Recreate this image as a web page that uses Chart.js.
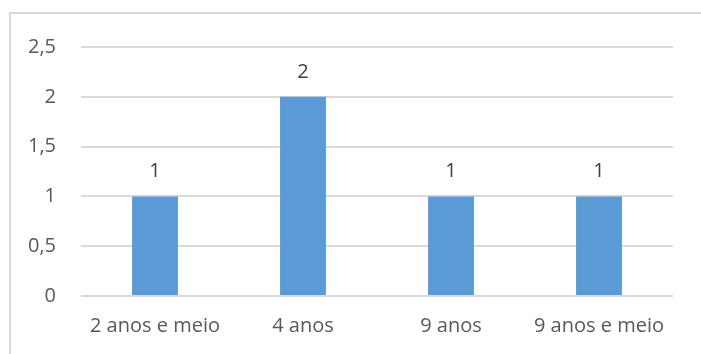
<!DOCTYPE html>
<html>
<head>
<meta charset="utf-8">
<script src="https://cdn.jsdelivr.net/npm/chart.js@4"></script>
<style>
html,body{margin:0;padding:0;background:#fff;}
#wrap{position:relative;width:701px;height:354px;}
</style>
</head>
<body>
<div id="wrap"><canvas id="c" width="701" height="354"></canvas></div>
<script>
const categories = ["2 anos e meio", "4 anos", "9 anos", "9 anos e meio"];
const values = [1, 2, 1, 1];
const yTicks = [0, 0.5, 1, 1.5, 2, 2.5];

const FONT = "'Open Sans', sans-serif";
const TXT = '#595959';
const FS = 20;

const framePlugin = {
  id: 'frame',
  beforeDraw(chart) {
    const ctx = chart.ctx;
    ctx.save();
    ctx.fillStyle = '#fff';
    ctx.fillRect(0, 0, chart.width, chart.height);
    ctx.strokeStyle = '#d9d9d9';
    ctx.lineWidth = 2;
    ctx.beginPath();
    ctx.moveTo(10, chart.height);
    ctx.lineTo(10, 13);
    ctx.lineTo(chart.width, 13);
    ctx.stroke();
    ctx.restore();
  }
};

const labelPlugin = {
  id: 'vals',
  afterDatasetsDraw(chart) {
    const ctx = chart.ctx;
    const meta = chart.getDatasetMeta(0);
    ctx.save();
    ctx.font = FS + 'px ' + FONT;
    ctx.fillStyle = '#404040';
    ctx.textAlign = 'center';
    ctx.textBaseline = 'middle';
    meta.data.forEach((bar, i) => {
      ctx.fillText(String(values[i]).replace('.', ','), bar.x, bar.y - 25);
    });
    ctx.restore();
  }
};

new Chart(document.getElementById('c'), {
  type: 'bar',
  data: {
    labels: categories,
    datasets: [{
      data: values,
      backgroundColor: '#5B9BD5',
      borderWidth: 0,
      barPercentage: 0.31,
      categoryPercentage: 1
    }]
  },
  options: {
    responsive: false,
    animation: false,
    devicePixelRatio: 1,
    layout: { padding: { top: 47, right: 28, left: 0, bottom: 0 } },
    plugins: { legend: { display: false }, tooltip: { enabled: false } },
    scales: {
      x: {
        grid: { display: false, drawTicks: false },
        border: { display: false },
        ticks: { color: TXT, font: { family: FONT, size: FS }, padding: 18, maxRotation: 0, autoSkip: false },
        afterFit(s) { s.height = 58; }
      },
      y: {
        min: 0, max: 2.5,
        afterBuildTicks(s) { s.ticks = yTicks.map(v => ({ value: v })); },
        grid: { color: '#d9d9d9', lineWidth: 2, drawTicks: false },
        border: { display: false },
        ticks: {
          color: TXT, font: { family: FONT, size: FS }, padding: 25,
          callback: v => String(v).replace('.', ',')
        },
        afterFit(s) { s.width = 81; }
      }
    }
  },
  plugins: [framePlugin, labelPlugin]
});
</script>
</body>
</html>
